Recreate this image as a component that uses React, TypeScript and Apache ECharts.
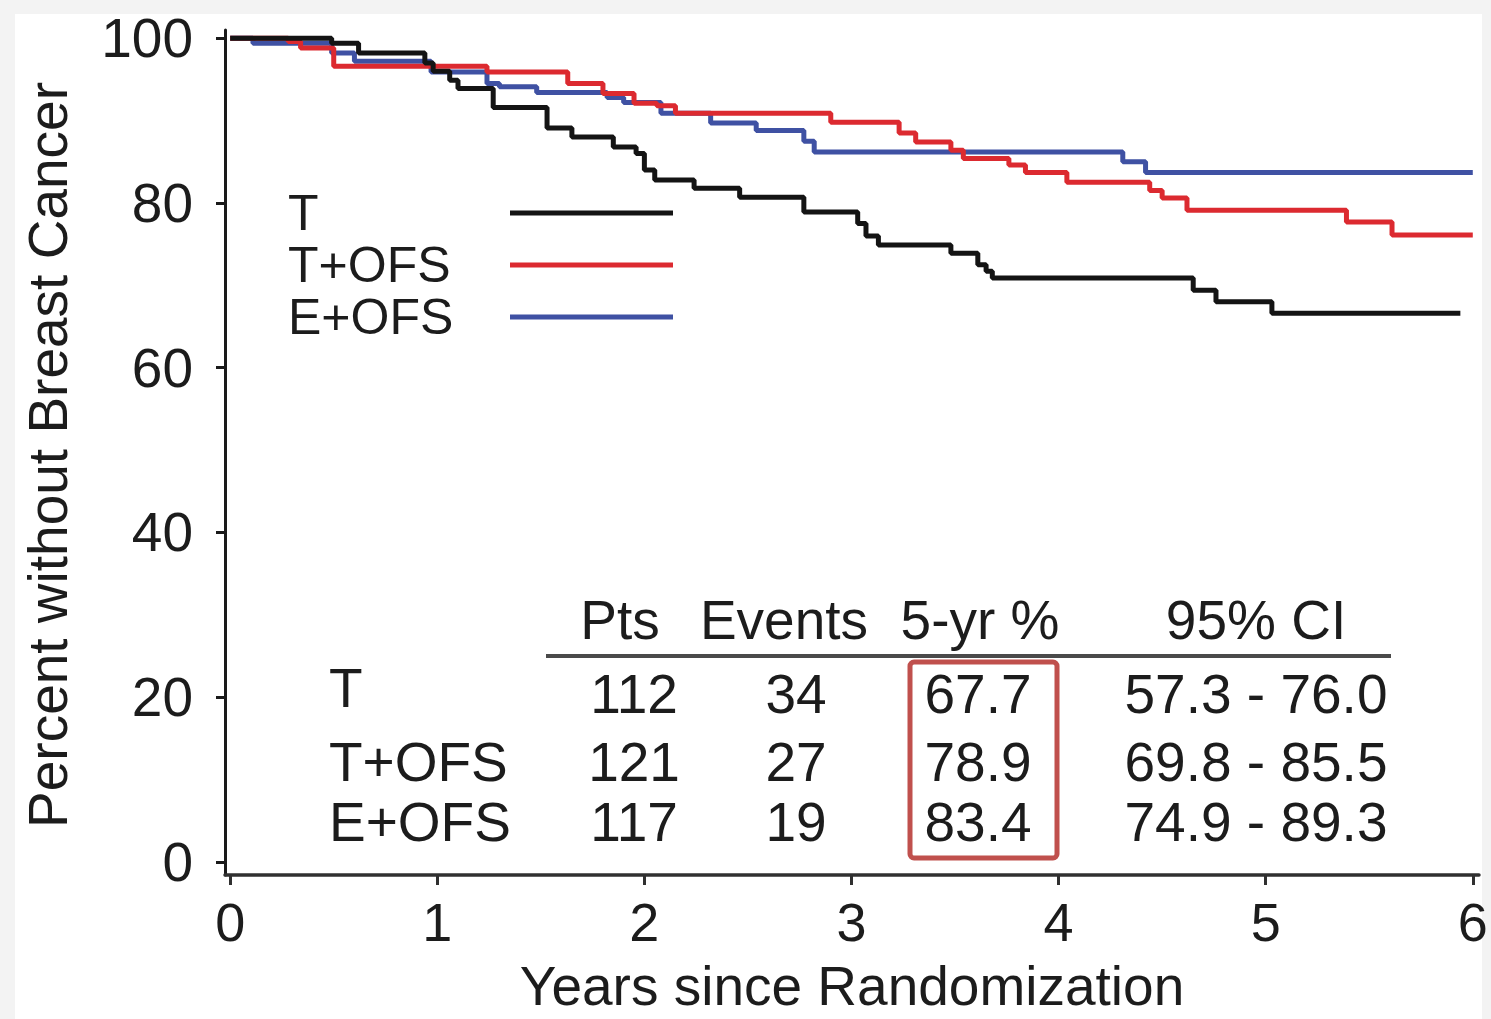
import React, { useEffect, useRef } from 'react';
import * as echarts from 'echarts';

const FONT = '"Liberation Sans", Arial, Helvetica, sans-serif';
const TEXT_COLOR = '#1c1c1c';

const SERIES_NAMES = ['T', 'T+OFS', 'E+OFS'];
const SERIES_COLORS = ['#141414', '#dc2a30', '#3f51a3'];

// Kaplan-Meier steps: time of drop (years) and survival after drop (%)
const T_TIMES = [0, 0.49, 0.62, 0.94, 0.98, 1.06, 1.1, 1.27, 1.53, 1.65, 1.85, 1.96, 2.0, 2.05, 2.24, 2.46, 2.77, 3.03, 3.07, 3.13, 3.48, 3.61, 3.65, 3.68, 4.65, 4.76, 5.03, 5.94];
const T_SURV = [100, 99.4, 98.2, 97.0, 96.0, 94.9, 93.9, 91.6, 89.1, 88.0, 86.8, 86.0, 84.0, 82.8, 81.8, 80.7, 78.9, 77.5, 76.0, 74.9, 73.9, 72.5, 71.7, 70.9, 69.4, 68.0, 66.6, 66.6];

const TOFS_TIMES = [0, 0.28, 0.34, 0.5, 1.24, 1.63, 1.8, 1.95, 2.06, 2.15, 2.9, 3.23, 3.31, 3.48, 3.54, 3.76, 3.84, 4.04, 4.44, 4.5, 4.62, 5.39, 5.61, 6.0];
const TOFS_SURV = [100, 99.6, 98.8, 96.6, 95.9, 94.5, 93.3, 92.1, 91.8, 90.9, 89.8, 88.5, 87.4, 86.4, 85.4, 84.6, 83.7, 82.5, 81.5, 80.6, 79.1, 77.7, 76.1, 76.1];

const EOFS_TIMES = [0, 0.11, 0.49, 0.6, 0.97, 1.24, 1.3, 1.48, 1.82, 1.9, 2.08, 2.32, 2.54, 2.77, 2.82, 4.31, 4.42, 6.0];
const EOFS_SURV = [100, 99.4, 98.2, 97.2, 95.9, 94.5, 94.1, 93.4, 92.8, 92.2, 90.9, 89.7, 88.8, 87.5, 86.2, 85.0, 83.7, 83.7];

const X_TICKS = [0, 1, 2, 3, 4, 5, 6];
const Y_TICKS = [0, 20, 40, 60, 80, 100];

const TABLE_HEADERS = ['Pts', 'Events', '5-yr %', '95% CI'];
const TABLE_ROWS = ['T', 'T+OFS', 'E+OFS'];
const PTS = ['112', '121', '117'];
const EVENTS = ['34', '27', '19'];
const FIVE_YR = ['67.7', '78.9', '83.4'];
const CI_95 = ['57.3 - 76.0', '69.8 - 85.5', '74.9 - 89.3'];

const Y_TITLE = 'Percent without Breast Cancer';
const X_TITLE = 'Years since Randomization';

function pairs(times: number[], vals: number[]) {
  return times.map((t, i) => [t, vals[i]]);
}

export default function App() {
  const ref = useRef<HTMLDivElement>(null);

  useEffect(() => {
    if (!ref.current) return;
    const chart = echarts.init(ref.current, undefined, { renderer: 'svg' });

    const colX = [620, 784, 980, 1256];
    const headerY = 620;
    const rowY = [694, 762, 822];
    const labelY = [688, 762, 822];
    const tableFont = 55;

    const txt = (text: string, x: number, y: number, align: string, size = tableFont) => ({
      type: 'text',
      x,
      y,
      z: 50,
      style: {
        text,
        fill: TEXT_COLOR,
        font: `${size}px ${FONT}`,
        align,
        verticalAlign: 'middle',
      },
    });

    const graphics: any[] = [
      {
        type: 'rect',
        z: -100,
        shape: { x: 15, y: 14, width: 1467, height: 1010 },
        style: { fill: '#ffffff' },
        silent: true,
      },
      // y title
      {
        type: 'text',
        x: 48,
        y: 455,
        rotation: Math.PI / 2,
        z: 50,
        style: {
          text: Y_TITLE,
          fill: TEXT_COLOR,
          font: `55px ${FONT}`,
          align: 'center',
          verticalAlign: 'middle',
        },
      },
      txt(X_TITLE, 852, 986, 'center', 55),
      // table header
      ...TABLE_HEADERS.map((h, i) => txt(h, colX[i], headerY, 'center')),
      {
        type: 'rect',
        z: 50,
        shape: { x: 546, y: 654, width: 845, height: 4 },
        style: { fill: '#4a4a4a' },
      },
      ...TABLE_ROWS.map((r, i) => txt(r, 329, labelY[i], 'left')),
      ...PTS.map((v, i) => txt(v, colX[0] + 14, rowY[i], 'center')),
      ...EVENTS.map((v, i) => txt(v, colX[1] + 12, rowY[i], 'center')),
      ...FIVE_YR.map((v, i) => txt(v, colX[2] - 2, rowY[i], 'center')),
      ...CI_95.map((v, i) => txt(v, colX[3], rowY[i], 'center')),
      {
        type: 'rect',
        z: 60,
        shape: { x: 910, y: 662, width: 147, height: 196, r: 4 },
        style: { fill: 'none', stroke: '#c0504d', lineWidth: 5 },
      },
    ];

    const seriesData = [
      pairs(T_TIMES, T_SURV),
      pairs(TOFS_TIMES, TOFS_SURV),
      pairs(EOFS_TIMES, EOFS_SURV),
    ];

    chart.setOption({
      animation: false,
      backgroundColor: '#f3f3f3',
      textStyle: { fontFamily: FONT },
      grid: { left: 225, top: 30, width: 1254, height: 845, containLabel: false },
      legend: {
        orient: 'vertical',
        left: 283,
        top: 183,
        align: 'right',
        itemWidth: 163,
        itemHeight: 5,
        itemGap: 2,
        icon: 'rect',
        data: SERIES_NAMES,
        formatter: (name: string) => `{a|${name}}`,
        textStyle: {
          color: TEXT_COLOR,
          fontSize: 50,
          fontFamily: FONT,
          rich: {
            a: { width: 217, align: 'left', fontSize: 50, lineHeight: 50, fontFamily: FONT, color: TEXT_COLOR },
          },
        },
      },
      xAxis: {
        type: 'value',
        min: -0.025,
        max: 6.03,
        axisLine: { show: true, onZero: false, lineStyle: { color: '#303030', width: 3.5 } },
        axisTick: { show: true, length: 10, customValues: X_TICKS, lineStyle: { color: '#303030', width: 3 } },
        axisLabel: { customValues: X_TICKS, margin: 20, fontSize: 54, color: TEXT_COLOR, fontFamily: FONT },
        splitLine: { show: false },
      },
      yAxis: {
        type: 'value',
        min: -1.6,
        max: 101,
        axisLine: { show: true, onZero: false, lineStyle: { color: '#1a1a1a', width: 3 } },
        axisTick: { show: true, length: 9, customValues: Y_TICKS, lineStyle: { color: '#1a1a1a', width: 3 } },
        axisLabel: { customValues: Y_TICKS, margin: 32, fontSize: 55, color: TEXT_COLOR, fontFamily: FONT },
        splitLine: { show: false },
      },
      graphic: graphics,
      series: SERIES_NAMES.map((name, i) => ({
        name,
        type: 'line',
        step: 'end',
        data: seriesData[i],
        showSymbol: false,
        symbol: 'none',
        color: SERIES_COLORS[i],
        lineStyle: { color: SERIES_COLORS[i], width: 5 },
        z: 10 - i,
      })),
    });

    return () => chart.dispose();
  }, []);

  return (
    <div
      ref={ref}
      style={{ position: 'absolute', left: 0, top: 0, width: 1491, height: 1019 }}
    />
  );
}
